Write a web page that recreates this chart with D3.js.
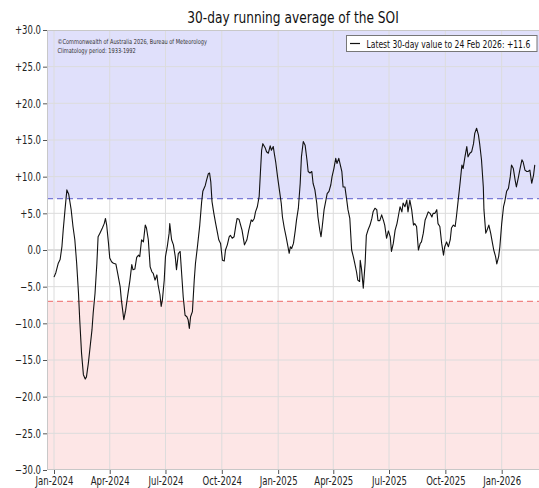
<!DOCTYPE html>
<html>
<head>
<meta charset="utf-8">
<script src="https://cdn.jsdelivr.net/npm/d3@7"></script>
<style>
  html, body { margin: 0; padding: 0; background: #fff; }
  svg { display: block; }
  text { font-family: "DejaVu Sans", sans-serif; }
</style>
</head>
<body>
<svg id="chart" width="539" height="488"></svg>
<script>
// 30-day running SOI values, sampled every few days
const dates = [
  "2024-01-01","2024-01-04","2024-01-08","2024-01-11","2024-01-14","2024-01-16","2024-01-19","2024-01-22","2024-01-25","2024-01-29",
  "2024-02-01","2024-02-04","2024-02-07","2024-02-10","2024-02-12","2024-02-15","2024-02-18","2024-02-21","2024-02-23","2024-02-26",
  "2024-02-29","2024-03-03","2024-03-05","2024-03-08","2024-03-11","2024-03-13","2024-03-16","2024-03-20","2024-03-23","2024-03-25",
  "2024-03-27","2024-03-30","2024-04-01","2024-04-04","2024-04-07","2024-04-11","2024-04-14","2024-04-18","2024-04-20","2024-04-24",
  "2024-04-27","2024-04-30","2024-05-04","2024-05-07","2024-05-09","2024-05-12","2024-05-15","2024-05-18","2024-05-20","2024-05-23",
  "2024-05-26","2024-05-29","2024-05-31","2024-06-03","2024-06-06","2024-06-09","2024-06-11","2024-06-14","2024-06-17","2024-06-19",
  "2024-06-22","2024-06-24","2024-06-26","2024-06-29","2024-07-01","2024-07-04","2024-07-07","2024-07-08","2024-07-11","2024-07-14",
  "2024-07-17","2024-07-19","2024-07-22","2024-07-25","2024-07-27","2024-07-30","2024-08-02","2024-08-05","2024-08-07","2024-08-09",
  "2024-08-11","2024-08-14","2024-08-17","2024-08-19","2024-08-22","2024-08-26","2024-08-29","2024-08-31","2024-09-04","2024-09-06",
  "2024-09-09","2024-09-11","2024-09-13","2024-09-15","2024-09-18","2024-09-21","2024-09-24","2024-09-26","2024-09-29","2024-10-02",
  "2024-10-05","2024-10-07","2024-10-10","2024-10-13","2024-10-15","2024-10-18","2024-10-21","2024-10-24","2024-10-26","2024-10-29",
  "2024-11-03","2024-11-07","2024-11-11","2024-11-14","2024-11-18","2024-11-20","2024-11-23","2024-11-25","2024-11-28","2024-12-01",
  "2024-12-03","2024-12-05","2024-12-07","2024-12-11","2024-12-13","2024-12-16","2024-12-19","2024-12-21","2024-12-24","2024-12-26",
  "2024-12-28","2024-12-31","2025-01-03","2025-01-06","2025-01-08","2025-01-11","2025-01-14","2025-01-17","2025-01-19","2025-01-21",
  "2025-01-23","2025-01-26","2025-01-29","2025-01-31","2025-02-03","2025-02-06","2025-02-08","2025-02-11","2025-02-14","2025-02-17",
  "2025-02-19","2025-02-22","2025-02-25","2025-02-27","2025-03-02","2025-03-05","2025-03-07","2025-03-10","2025-03-12","2025-03-14",
  "2025-03-17","2025-03-20","2025-03-22","2025-03-25","2025-03-28","2025-03-30","2025-04-02","2025-04-05","2025-04-07","2025-04-10",
  "2025-04-15","2025-04-17","2025-04-20","2025-04-23","2025-04-25","2025-04-28","2025-05-01","2025-05-04","2025-05-06","2025-05-09",
  "2025-05-11","2025-05-14","2025-05-15","2025-05-17","2025-05-20","2025-05-23","2025-05-25","2025-05-28","2025-05-31","2025-06-03",
  "2025-06-05","2025-06-08","2025-06-11","2025-06-13","2025-06-16","2025-06-19","2025-06-22","2025-06-24","2025-06-27","2025-06-30",
  "2025-07-03","2025-07-05","2025-07-08","2025-07-11","2025-07-14","2025-07-16","2025-07-19","2025-07-22","2025-07-24","2025-07-27",
  "2025-07-30","2025-08-01","2025-08-04","2025-08-07","2025-08-10","2025-08-12","2025-08-15","2025-08-18","2025-08-21","2025-08-23",
  "2025-08-26","2025-08-29","2025-08-31","2025-09-03","2025-09-06","2025-09-09","2025-09-11","2025-09-14","2025-09-17","2025-09-19",
  "2025-09-22","2025-09-25","2025-09-28","2025-09-30","2025-10-03","2025-10-06","2025-10-09","2025-10-11","2025-10-14","2025-10-17",
  "2025-10-19","2025-10-22","2025-10-25","2025-10-28","2025-10-30","2025-11-02","2025-11-05","2025-11-07","2025-11-10","2025-11-13",
  "2025-11-16","2025-11-18","2025-11-21","2025-11-24","2025-11-26","2025-11-29","2025-12-02","2025-12-03","2025-12-06","2025-12-08",
  "2025-12-11","2025-12-14","2025-12-17","2025-12-19","2025-12-22","2025-12-24","2025-12-27","2025-12-29","2026-01-01","2026-01-04",
  "2026-01-06","2026-01-09","2026-01-12","2026-01-15","2026-01-17","2026-01-20","2026-01-23","2026-01-25","2026-01-28","2026-01-31",
  "2026-02-03","2026-02-05","2026-02-08","2026-02-11","2026-02-13","2026-02-16","2026-02-19","2026-02-22","2026-02-24"
];
const soi = [
  -3.7,-3.1,-1.8,-1.3,0.5,2.7,5.5,8.2,7.6,5.5,
  3.2,1.4,-1.8,-5.9,-9.5,-14.1,-17.0,-17.6,-17.3,-15.5,
  -13.2,-10.9,-8.6,-5.9,-1.8,1.8,2.3,3.0,3.6,4.3,
  3.4,0.9,-1.1,-1.6,-1.8,-1.9,-3.2,-5.0,-6.8,-9.5,
  -8.2,-6.4,-4.1,-2.0,-2.7,-2.6,-1.0,-0.7,-0.9,1.4,
  1.1,3.4,3.0,1.4,-2.3,-3.0,-3.2,-4.1,-3.4,-4.8,
  -6.1,-7.7,-6.8,-4.1,-0.9,0.5,2.3,3.6,1.4,0.7,
  -0.9,-2.7,-0.5,-0.2,-2.7,-6.4,-8.9,-9.1,-9.5,-10.7,
  -9.1,-8.4,-4.1,-1.8,0.3,3.4,6.5,8.0,8.8,9.5,
  10.4,10.5,9.3,6.6,5.0,3.6,2.3,1.4,0.9,-1.4,
  -1.5,0.0,0.7,1.8,2.0,1.6,1.8,3.4,4.3,4.2,
  2.7,0.7,1.4,2.7,4.1,3.9,4.3,5.2,5.9,7.3,
  10.5,13.6,14.5,13.9,13.4,13.2,14.2,13.6,14.1,13.0,
  12.0,10.0,8.2,6.4,4.5,3.0,1.8,0.45,-0.45,0.45,
  0.2,0.9,2.7,4.1,5.7,9.1,12.7,14.8,14.3,12.3,
  10.7,10.5,10.7,9.1,8.2,6.4,4.5,2.7,1.8,3.2,
  5.5,6.8,7.7,8.0,8.9,10.0,11.1,12.5,11.8,12.5,
  10.7,8.6,8.6,6.8,5.5,4.3,0.0,-1.0,-1.8,-3.0,
  -4.1,-4.3,-1.4,-2.5,-5.2,-1.8,2.0,2.8,3.4,4.3,
  5.2,5.7,5.5,4.0,4.0,4.8,4.0,3.4,1.6,2.6,
  1.8,-0.2,0.9,2.7,3.6,4.5,5.9,5.2,6.4,5.9,
  6.8,5.2,6.8,5.5,3.4,3.6,3.2,0.0,0.9,1.1,
  2.3,4.1,4.5,5.2,5.0,4.5,5.0,5.0,5.5,3.6,
  3.2,0.9,-0.7,0.45,1.1,0.45,1.4,3.0,3.4,3.2,
  4.5,6.8,9.1,11.6,11.1,12.7,14.1,12.7,13.2,13.4,
  14.5,15.9,16.6,15.7,14.5,12.3,8.6,5.5,2.3,2.7,
  3.4,2.3,0.9,0.0,-0.9,-1.9,-0.9,0.45,3.6,5.9,
  6.6,8.0,8.4,10.0,11.6,11.1,9.5,8.6,9.8,11.1,
  12.3,12.0,10.9,10.7,10.7,10.9,9.1,10.2,11.6
];

// axis ticks and reference thresholds
const yTicks = [-30, -25, -20, -15, -10, -5, 0, 5, 10, 15, 20, 25, 30];
const xTicks = ["2024-01-01","2024-04-01","2024-07-01","2024-10-01","2025-01-01",
                "2025-04-01","2025-07-01","2025-10-01","2026-01-01"];
const thresholds = [7, -7];

const titleText = "30-day running average of the SOI";
const legendText = "Latest 30-day value to 24 Feb 2026: +11.6";
const creditLines = ["\u00A9Commonwealth of Australia 2026, Bureau of Meteorology",
                     "Climatology period: 1933-1992"];

const parse = d3.utcParse("%Y-%m-%d");
const series = dates.map((d, i) => ({ date: parse(d), value: soi[i] }));

const svg = d3.select("#chart");
const plot = { left: 47, right: 539, top: 30, bottom: 470 };

// time scale anchored on the calendar, extending a little either side of the data
const x = d3.scaleUtc()
  .domain([parse("2024-01-01"), parse("2026-01-01")])
  .range([54, 501.7]);
const y = d3.scaleLinear().domain([-30, 30]).range([plot.bottom, plot.top]);

// narrow the lettering horizontally about each text's own anchor point
const condense = 0.74;
function squeeze(sel, k) {
  sel.each(function () {
    const tx = +(this.getAttribute("x") || 0);
    const ty = +(this.getAttribute("y") || 0);
    this.setAttribute("x", 0);
    this.setAttribute("y", 0);
    this.setAttribute("transform", `translate(${tx},${ty}) scale(${k},1)`);
  });
}

// clip for everything inside the axes
svg.append("defs").append("clipPath").attr("id", "plotclip")
  .append("rect")
  .attr("x", plot.left).attr("y", plot.top)
  .attr("width", plot.right - plot.left).attr("height", plot.bottom - plot.top);

const inner = svg.append("g").attr("clip-path", "url(#plotclip)");

// shaded bands beyond the +7 / -7 thresholds
inner.append("rect")
  .attr("x", plot.left).attr("width", plot.right - plot.left)
  .attr("y", y(30)).attr("height", y(thresholds[0]) - y(30))
  .attr("fill", "#e0e0fb");
inner.append("rect")
  .attr("x", plot.left).attr("width", plot.right - plot.left)
  .attr("y", y(thresholds[1])).attr("height", y(-30) - y(thresholds[1]))
  .attr("fill", "#fde6e6");

// grid lines
inner.append("g")
  .selectAll("line")
  .data(yTicks)
  .join("line")
  .attr("x1", plot.left).attr("x2", plot.right)
  .attr("y1", d => y(d)).attr("y2", d => y(d))
  .attr("stroke", d => d === 0 ? "#b8b8b8" : "#dcdcdc")
  .attr("stroke-width", 1);
inner.append("g")
  .selectAll("line")
  .data(xTicks.map(parse))
  .join("line")
  .attr("x1", d => x(d)).attr("x2", d => x(d))
  .attr("y1", plot.top).attr("y2", plot.bottom)
  .attr("stroke", "#dcdcdc")
  .attr("stroke-width", 1);

// threshold lines at +7 and -7
inner.append("line")
  .attr("x1", plot.left).attr("x2", plot.right)
  .attr("y1", y(thresholds[0])).attr("y2", y(thresholds[0]))
  .attr("stroke", "#7a7ad6").attr("stroke-width", 1.2)
  .attr("stroke-dasharray", "6,4");
inner.append("line")
  .attr("x1", plot.left).attr("x2", plot.right)
  .attr("y1", y(thresholds[1])).attr("y2", y(thresholds[1]))
  .attr("stroke", "#f08484").attr("stroke-width", 1.2)
  .attr("stroke-dasharray", "6,4");

// SOI line
const line = d3.line()
  .x(d => x(d.date))
  .y(d => y(d.value));
inner.append("path")
  .datum(series)
  .attr("d", line)
  .attr("fill", "none")
  .attr("stroke", "#111")
  .attr("stroke-width", 1.1)
  .attr("stroke-linejoin", "round");

// axes frame
svg.append("rect")
  .attr("x", plot.left + 0.5).attr("y", plot.top + 0.5)
  .attr("width", plot.right - plot.left).attr("height", plot.bottom - plot.top - 1)
  .attr("fill", "none").attr("stroke", "#c8c8c8").attr("stroke-width", 1);

// y axis
const fmt = d => d > 0 ? "+" + d.toFixed(1) : d < 0 ? "\u2212" + Math.abs(d).toFixed(1) : "0.0";
const yAxis = svg.append("g")
  .attr("transform", `translate(${plot.left},0)`)
  .call(d3.axisLeft(y).tickValues(yTicks).tickFormat(fmt).tickSize(4).tickPadding(2));
yAxis.select(".domain").remove();
yAxis.selectAll(".tick line").attr("stroke", "#555");
yAxis.selectAll(".tick text")
  .attr("font-family", "DejaVu Sans, sans-serif")
  .attr("font-size", 11.5)
  .attr("fill", "#222")
  .call(squeeze, condense);

// x axis
const xAxis = svg.append("g")
  .attr("transform", `translate(0,${plot.bottom})`)
  .call(d3.axisBottom(x).tickValues(xTicks.map(parse)).tickFormat(d3.utcFormat("%b-%Y")).tickSize(4).tickPadding(3));
xAxis.select(".domain").remove();
xAxis.selectAll(".tick line").attr("stroke", "#555");
xAxis.selectAll(".tick text")
  .attr("font-family", "DejaVu Sans, sans-serif")
  .attr("font-size", 11.5)
  .attr("fill", "#222")
  .call(squeeze, condense);

// title
svg.append("text")
  .attr("x", (plot.left + plot.right) / 2).attr("y", 23)
  .attr("text-anchor", "middle")
  .attr("font-size", 16.5)
  .attr("fill", "#111")
  .text(titleText)
  .call(squeeze, condense);

// credit block in the top-left corner
svg.append("g").selectAll("text")
  .data(creditLines)
  .join("text")
  .attr("x", 57.5)
  .attr("y", (d, i) => 44 + i * 9)
  .attr("font-size", 6.8)
  .attr("fill", "#333")
  .text(d => d)
  .call(squeeze, condense);

// legend
const lg = svg.append("g");
lg.append("rect")
  .attr("x", 346.5).attr("y", 35.5)
  .attr("width", 190.5).attr("height", 16)
  .attr("fill", "#fff").attr("stroke", "#777").attr("stroke-width", 1);
lg.append("line")
  .attr("x1", 350).attr("x2", 360)
  .attr("y1", 43.5).attr("y2", 43.5)
  .attr("stroke", "#111").attr("stroke-width", 1.2);
lg.append("text")
  .attr("x", 366.5).attr("y", 47.5)
  .attr("font-size", 10.3)
  .attr("fill", "#111")
  .text(legendText)
  .call(squeeze, condense);
</script>
</body>
</html>
